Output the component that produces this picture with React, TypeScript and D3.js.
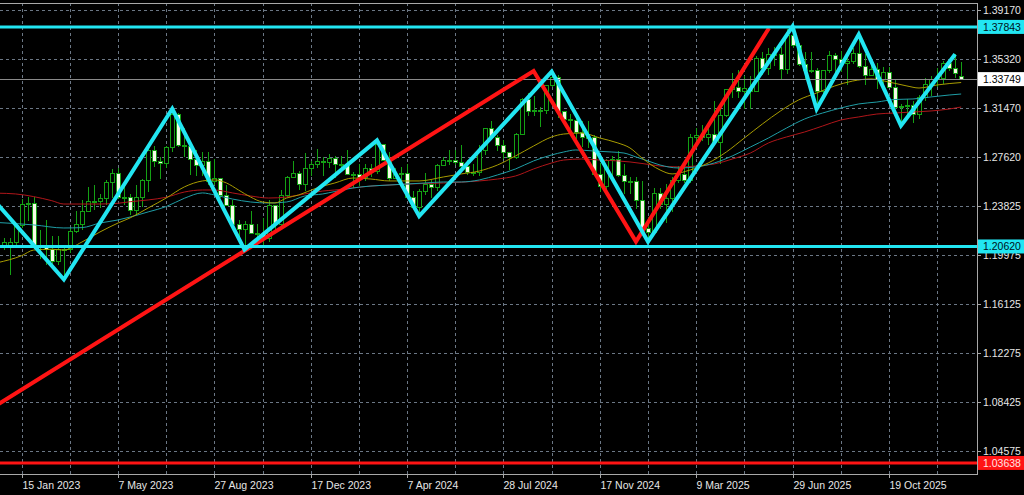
import React from 'react';
import * as d3 from 'd3';

// GBPUSD weekly. Week index 0 = 15 Jan 2023; first candle is week -3.
const FIRST_WEEK = -3;
// [open, high, low, close]
const candles: [number, number, number, number][] = [
  [1.2060, 1.2128, 1.2035, 1.2090],
  [1.2050, 1.2130, 1.1841, 1.2095],
  [1.2095, 1.2250, 1.2070, 1.2225],
  [1.2225, 1.2435, 1.2210, 1.2395],
  [1.2395, 1.2448, 1.2265, 1.2400],
  [1.2400, 1.2448, 1.2045, 1.2050],
  [1.2050, 1.2195, 1.1961, 1.2060],
  [1.2060, 1.2270, 1.1915, 1.2035],
  [1.2035, 1.2145, 1.1925, 1.1944],
  [1.1944, 1.2145, 1.1920, 1.2037],
  [1.2037, 1.2050, 1.1803, 1.2035],
  [1.2035, 1.2203, 1.2010, 1.2177],
  [1.2177, 1.2343, 1.2170, 1.2232],
  [1.2232, 1.2423, 1.2190, 1.2337],
  [1.2337, 1.2525, 1.2335, 1.2415],
  [1.2415, 1.2546, 1.2345, 1.2413],
  [1.2413, 1.2474, 1.2367, 1.2441],
  [1.2441, 1.2585, 1.2385, 1.2567],
  [1.2567, 1.2668, 1.2445, 1.2631],
  [1.2631, 1.2680, 1.2433, 1.2449],
  [1.2449, 1.2547, 1.2391, 1.2444],
  [1.2444, 1.2472, 1.2308, 1.2347],
  [1.2347, 1.2544, 1.2308, 1.2448],
  [1.2448, 1.2588, 1.2369, 1.2576],
  [1.2576, 1.2848, 1.2487, 1.2818],
  [1.2818, 1.2848, 1.2684, 1.2726],
  [1.2726, 1.2762, 1.2590, 1.2711],
  [1.2711, 1.2849, 1.2676, 1.2840],
  [1.2840, 1.3142, 1.2800, 1.3094],
  [1.3094, 1.3110, 1.2845, 1.2852],
  [1.2852, 1.2995, 1.2760, 1.2850],
  [1.2850, 1.2893, 1.2620, 1.2746],
  [1.2746, 1.2818, 1.2617, 1.2695],
  [1.2695, 1.2800, 1.2616, 1.2725],
  [1.2725, 1.2803, 1.2548, 1.2575],
  [1.2575, 1.2746, 1.2545, 1.2593],
  [1.2593, 1.2600, 1.2445, 1.2465],
  [1.2465, 1.2547, 1.2378, 1.2381],
  [1.2381, 1.2425, 1.2231, 1.2238],
  [1.2238, 1.2270, 1.2110, 1.2197],
  [1.2197, 1.2260, 1.2037, 1.2237],
  [1.2237, 1.2337, 1.2160, 1.2162],
  [1.2162, 1.2240, 1.2090, 1.2158],
  [1.2158, 1.2289, 1.2069, 1.2125],
  [1.2125, 1.2428, 1.2096, 1.2381],
  [1.2381, 1.2390, 1.2187, 1.2237],
  [1.2237, 1.2506, 1.2226, 1.2461],
  [1.2461, 1.2617, 1.2447, 1.2600],
  [1.2600, 1.2733, 1.2596, 1.2632],
  [1.2632, 1.2652, 1.2503, 1.2548],
  [1.2548, 1.2793, 1.2500, 1.2676],
  [1.2676, 1.2733, 1.2612, 1.2703],
  [1.2703, 1.2827, 1.2678, 1.2726],
  [1.2726, 1.2760, 1.2611, 1.2723],
  [1.2723, 1.2785, 1.2675, 1.2753],
  [1.2753, 1.2773, 1.2597, 1.2703],
  [1.2703, 1.2775, 1.2676, 1.2708],
  [1.2708, 1.2818, 1.2620, 1.2630],
  [1.2630, 1.2650, 1.2518, 1.2628],
  [1.2628, 1.2709, 1.2536, 1.2600],
  [1.2600, 1.2709, 1.2577, 1.2670],
  [1.2670, 1.2709, 1.2605, 1.2651],
  [1.2651, 1.2894, 1.2630, 1.2858],
  [1.2858, 1.2864, 1.2735, 1.2736],
  [1.2736, 1.2803, 1.2574, 1.2598],
  [1.2598, 1.2675, 1.2589, 1.2624],
  [1.2624, 1.2683, 1.2539, 1.2633],
  [1.2633, 1.2709, 1.2448, 1.2449],
  [1.2449, 1.2498, 1.2368, 1.2371],
  [1.2371, 1.2510, 1.2300, 1.2493],
  [1.2493, 1.2635, 1.2465, 1.2546],
  [1.2546, 1.2594, 1.2446, 1.2523],
  [1.2523, 1.2710, 1.2500, 1.2700],
  [1.2700, 1.2760, 1.2690, 1.2738],
  [1.2738, 1.2818, 1.2700, 1.2740],
  [1.2740, 1.2818, 1.2702, 1.2722],
  [1.2722, 1.2860, 1.2656, 1.2686],
  [1.2686, 1.2738, 1.2620, 1.2644],
  [1.2644, 1.2709, 1.2612, 1.2645],
  [1.2645, 1.2861, 1.2615, 1.2813],
  [1.2813, 1.2995, 1.2780, 1.2990],
  [1.2990, 1.3044, 1.2911, 1.2920],
  [1.2920, 1.2935, 1.2807, 1.2855],
  [1.2855, 1.2900, 1.2751, 1.2800],
  [1.2800, 1.2800, 1.2665, 1.2757],
  [1.2757, 1.2955, 1.2750, 1.2943],
  [1.2943, 1.3230, 1.2940, 1.3214],
  [1.3214, 1.3266, 1.3087, 1.3124],
  [1.3124, 1.3239, 1.3088, 1.3125],
  [1.3125, 1.3154, 1.3002, 1.3127],
  [1.3127, 1.3330, 1.3105, 1.3324],
  [1.3324, 1.3434, 1.3315, 1.3390],
  [1.3390, 1.3410, 1.3070, 1.3122],
  [1.3122, 1.3126, 1.3012, 1.3055],
  [1.3055, 1.3100, 1.2973, 1.3052],
  [1.3052, 1.3106, 1.2908, 1.2958],
  [1.2958, 1.3048, 1.2844, 1.2918],
  [1.2918, 1.3048, 1.2835, 1.2917],
  [1.2917, 1.2940, 1.2620, 1.2625],
  [1.2625, 1.2720, 1.2487, 1.2532],
  [1.2532, 1.2750, 1.2500, 1.2733],
  [1.2733, 1.2775, 1.2610, 1.2743],
  [1.2743, 1.2811, 1.2606, 1.2619],
  [1.2619, 1.2712, 1.2475, 1.2572],
  [1.2572, 1.2607, 1.2475, 1.2568],
  [1.2568, 1.2607, 1.2353, 1.2422],
  [1.2422, 1.2575, 1.2190, 1.2206],
  [1.2206, 1.2291, 1.2100, 1.2170],
  [1.2170, 1.2524, 1.2160, 1.2480],
  [1.2480, 1.2520, 1.2357, 1.2393],
  [1.2393, 1.2550, 1.2250, 1.2440],
  [1.2440, 1.2607, 1.2332, 1.2580],
  [1.2580, 1.2690, 1.2560, 1.2630],
  [1.2630, 1.2715, 1.2560, 1.2578],
  [1.2578, 1.2947, 1.2560, 1.2918],
  [1.2918, 1.2990, 1.2860, 1.2935],
  [1.2935, 1.3015, 1.2890, 1.2918],
  [1.2918, 1.2990, 1.2860, 1.2940],
  [1.2940, 1.3207, 1.2855, 1.2880],
  [1.2880, 1.3150, 1.2708, 1.3087],
  [1.3087, 1.3300, 1.3080, 1.3290],
  [1.3290, 1.3424, 1.3230, 1.3310],
  [1.3310, 1.3445, 1.3230, 1.3280],
  [1.3280, 1.3400, 1.3140, 1.3300],
  [1.3300, 1.3400, 1.3140, 1.3280],
  [1.3280, 1.3560, 1.3270, 1.3540],
  [1.3540, 1.3590, 1.3410, 1.3460],
  [1.3460, 1.3615, 1.3410, 1.3570],
  [1.3570, 1.3630, 1.3480, 1.3570],
  [1.3570, 1.3630, 1.3370, 1.3450],
  [1.3450, 1.3770, 1.3415, 1.3720],
  [1.3720, 1.3789, 1.3620, 1.3640],
  [1.3640, 1.3660, 1.3480, 1.3490],
  [1.3490, 1.3590, 1.3365, 1.3440],
  [1.3440, 1.3590, 1.3420, 1.3440],
  [1.3440, 1.3460, 1.3140, 1.3275],
  [1.3275, 1.3440, 1.3260, 1.3445],
  [1.3445, 1.3595, 1.3420, 1.3560],
  [1.3560, 1.3580, 1.3390, 1.3525],
  [1.3525, 1.3595, 1.3430, 1.3500],
  [1.3500, 1.3595, 1.3330, 1.3510],
  [1.3510, 1.3615, 1.3490, 1.3575],
  [1.3575, 1.3726, 1.3465, 1.3470],
  [1.3470, 1.3570, 1.3325, 1.3405],
  [1.3405, 1.3525, 1.3400, 1.3450],
  [1.3450, 1.3500, 1.3300, 1.3370],
  [1.3370, 1.3470, 1.3295, 1.3430],
  [1.3430, 1.3470, 1.3305, 1.3310],
  [1.3310, 1.3370, 1.3140, 1.3150],
  [1.3150, 1.3180, 1.3010, 1.3160],
  [1.3160, 1.3215, 1.3090, 1.3170],
  [1.3170, 1.3200, 1.3030, 1.3100],
  [1.3100, 1.3250, 1.3060, 1.3230],
  [1.3230, 1.3385, 1.3200, 1.3330],
  [1.3330, 1.3400, 1.3240, 1.3370],
  [1.3370, 1.3460, 1.3315, 1.3380],
  [1.3380, 1.3520, 1.3340, 1.3500],
  [1.3500, 1.3535, 1.3440, 1.3460],
  [1.3460, 1.3570, 1.3380, 1.3420],
  [1.3395, 1.3510, 1.3370, 1.33749],
];

// moving averages: [week, price]
const maYellow: [number, number][] = [
  [-4, 1.1935], [0, 1.1990], [2, 1.2034], [5, 1.2040], [7, 1.2034], [10, 1.2097], [13, 1.2176],
  [16, 1.2246], [18, 1.2286], [21, 1.2364], [24, 1.2442], [27, 1.2529], [30, 1.2576], [32, 1.2584],
  [34, 1.2560], [36, 1.2505], [38, 1.2450], [40, 1.2411], [42, 1.2403], [44, 1.2442], [46, 1.2466],
  [49, 1.2521], [52, 1.2560], [55, 1.2599], [58, 1.2591], [61, 1.2576], [64, 1.2576], [66, 1.2576],
  [70, 1.2607], [73, 1.2631], [76, 1.2654], [79, 1.2701], [82, 1.2772], [85, 1.2850], [88, 1.2921],
  [90, 1.2944], [93, 1.2952], [96, 1.2913], [99, 1.2874], [101, 1.2835], [103, 1.2756], [106, 1.2662],
  [108, 1.2631], [111, 1.2662], [114, 1.2717], [117, 1.2803], [120, 1.2913], [123, 1.3023],
  [126, 1.3125], [129, 1.3211], [132, 1.3266], [135, 1.3321], [138, 1.3360], [141, 1.3376],
  [144, 1.3352], [147, 1.3321], [149, 1.3305], [152, 1.3329], [156, 1.3348],
];
const maTeal: [number, number][] = [
  [-4, 1.2250], [2, 1.2231], [7, 1.2207], [10, 1.2210], [13, 1.2246], [16, 1.2270], [18, 1.2293],
  [21, 1.2333], [24, 1.2375], [27, 1.2440], [30, 1.2482], [32, 1.2466], [35, 1.2434], [38, 1.2411],
  [41, 1.2403], [44, 1.2411], [47, 1.2458], [50, 1.2474], [52, 1.2493], [55, 1.2521], [58, 1.2536],
  [61, 1.2544], [64, 1.2552], [67, 1.2560], [70, 1.2568], [73, 1.2568], [76, 1.2584], [79, 1.2623],
  [82, 1.2670], [85, 1.2733], [88, 1.2780], [90, 1.2803], [92, 1.2819], [95, 1.2811], [98, 1.2803],
  [100, 1.2795], [102, 1.2764], [104, 1.2733], [106, 1.2701], [109, 1.2678], [112, 1.2686],
  [115, 1.2717], [118, 1.2772], [121, 1.2842], [124, 1.2913], [127, 1.2991], [130, 1.3062],
  [133, 1.3109], [136, 1.3148], [139, 1.3180], [142, 1.3195], [145, 1.3215], [148, 1.3219],
  [151, 1.3235], [154, 1.3250], [156, 1.3258],
];
const maRed: [number, number][] = [
  [-4, 1.2480], [-1, 1.2474], [2, 1.2453], [5, 1.2421], [7, 1.2395], [13, 1.2395], [16, 1.2401],
  [18, 1.2413], [21, 1.2427], [24, 1.2448], [27, 1.2489], [30, 1.2505], [32, 1.2505], [35, 1.2482],
  [38, 1.2458], [41, 1.2442], [44, 1.2450], [47, 1.2474], [50, 1.2497], [52, 1.2505], [55, 1.2521],
  [58, 1.2536], [61, 1.2544], [64, 1.2552], [70, 1.2560], [76, 1.2576], [79, 1.2591], [82, 1.2615],
  [85, 1.2670], [88, 1.2717], [90, 1.2740], [93, 1.2748], [96, 1.2740], [99, 1.2733], [101, 1.2725],
  [103, 1.2713], [106, 1.2693], [109, 1.2686], [112, 1.2693], [115, 1.2709], [118, 1.2748],
  [121, 1.2795], [124, 1.2874], [127, 1.2921], [130, 1.2960], [133, 1.3007], [136, 1.3054],
  [139, 1.3078], [142, 1.3101], [145, 1.3109], [148, 1.3117], [151, 1.3125], [154, 1.3140],
  [156, 1.3156],
];

// zigzag swing points [week, price]
const zigzag: [number, number][] = [
  [-5, 1.2446], [7, 1.1803], [25, 1.3142], [37, 1.2037], [59, 1.2894], [66, 1.2300],
  [88, 1.3434], [104, 1.2100], [128, 1.3789], [132, 1.3140], [139, 1.3726], [146, 1.3010],
  [155, 1.3570],
];
// red trend lines [week, price]
const redTrend: [number, number][] = [
  [-4, 1.0822], [85, 1.3439], [102, 1.2100], [124.1, 1.3776],
];

const cyanLevels = [1.37843, 1.20620];
const redLevel = 1.03638;
const lastPrice = 1.33749;

const priceTicks = [1.39170, 1.35320, 1.31470, 1.27620, 1.23825, 1.19975, 1.16125, 1.12275, 1.08425, 1.04575];
const dateLabels = [
  '15 Jan 2023', '7 May 2023', '27 Aug 2023', '17 Dec 2023', '7 Apr 2024',
  '28 Jul 2024', '17 Nov 2024', '9 Mar 2025', '29 Jun 2025', '19 Oct 2025',
];
const LABEL_EVERY = 16;
const GRID_EVERY = 8;

const PLOT_R = 977;
const PLOT_T = 3;
const PLOT_B = 474;
const FONT = "'Liberation Sans', Arial, sans-serif";

export default function App() {
  const x = d3.scaleLinear().domain([0, 144]).range([21.7, 888.9]);
  const y = d3.scaleLinear().domain([1.04575, 1.3917]).range([451, 10]);

  const maLine = d3.line<[number, number]>().x(d => x(d[0])).y(d => y(d[1])).curve(d3.curveMonotoneX);
  const polyLine = d3.line<[number, number]>().x(d => x(d[0])).y(d => y(d[1]));

  const vGrid: number[] = [];
  for (let w = 0; x(w) < PLOT_R; w += GRID_EVERY) vGrid.push(w);

  const green = '#14a014';

  return (
    <svg width={1024} height={495} style={{ position: 'fixed', left: 0, top: 0, background: '#000', display: 'block' }}>
      <defs>
        <clipPath id="plot">
          <rect x={0} y={PLOT_T} width={PLOT_R} height={PLOT_B - PLOT_T} />
        </clipPath>
      </defs>
      <rect x={0} y={0} width={1024} height={495} fill="#000" />
      {/* grid */}
      <g stroke="#6b7785" strokeWidth={1} strokeDasharray="3,3" shapeRendering="crispEdges">
        {priceTicks.map(p => (
          <line key={'h' + p} x1={0} x2={PLOT_R} y1={Math.round(y(p)) + 0.5} y2={Math.round(y(p)) + 0.5} />
        ))}
        {vGrid.map(w => (
          <line key={'v' + w} x1={Math.round(x(w)) + 0.5} x2={Math.round(x(w)) + 0.5} y1={PLOT_T} y2={PLOT_B} />
        ))}
      </g>
      <g clipPath="url(#plot)">
        {/* candles */}
        <g shapeRendering="crispEdges">
          {candles.map((c, k) => {
            const w = k + FIRST_WEEK;
            const cx = Math.round(x(w)) + 0.5;
            const [o, h, l, cl] = c;
            const top = y(Math.max(o, cl));
            const bot = y(Math.min(o, cl));
            const bull = cl >= o;
            return (
              <g key={k}>
                <line x1={cx} x2={cx} y1={y(h)} y2={y(l)} stroke={green} strokeWidth={1} />
                <rect x={cx - 2} y={top} width={4} height={Math.max(bot - top, 1)}
                  fill={bull ? '#000' : '#f6fbe8'} stroke={green} strokeWidth={1} />
              </g>
            );
          })}
        </g>
        {/* moving averages */}
        <path d={maLine(maRed) || ''} fill="none" stroke="#b0161a" strokeWidth={1} />
        <path d={maLine(maTeal) || ''} fill="none" stroke="#1f9ea6" strokeWidth={1} />
        <path d={maLine(maYellow) || ''} fill="none" stroke="#a89c00" strokeWidth={1} />
        {/* last price line */}
        <line x1={0} x2={PLOT_R} y1={Math.round(y(lastPrice)) + 0.5} y2={Math.round(y(lastPrice)) + 0.5}
          stroke="#8a8a8a" strokeWidth={1} shapeRendering="crispEdges" />
        {/* red trend */}
        <path d={polyLine(redTrend) || ''} fill="none" stroke="#ff1414" strokeWidth={4} strokeLinejoin="miter" />
        {/* zigzag */}
        <path d={polyLine(zigzag) || ''} fill="none" stroke="#22e6f2" strokeWidth={4} strokeLinejoin="miter" />
        {/* levels */}
        {cyanLevels.map(p => (
          <line key={'c' + p} x1={0} x2={PLOT_R} y1={y(p)} y2={y(p)} stroke="#22e6f2" strokeWidth={3} />
        ))}
        <line x1={0} x2={PLOT_R} y1={y(redLevel)} y2={y(redLevel)} stroke="#ff1414" strokeWidth={3} />
      </g>
      {/* frame */}
      <g stroke="#a8a8a8" strokeWidth={1} fill="none" shapeRendering="crispEdges">
        <line x1={0} x2={PLOT_R + 0.5} y1={PLOT_T + 0.5} y2={PLOT_T + 0.5} />
        <line x1={PLOT_R + 0.5} x2={PLOT_R + 0.5} y1={PLOT_T} y2={PLOT_B + 0.5} />
        <line x1={0} x2={PLOT_R + 0.5} y1={PLOT_B + 0.5} y2={PLOT_B + 0.5} />
      </g>
      {/* price axis */}
      <g fontFamily={FONT} fontSize={10.5} fill="#e6e6e6">
        {priceTicks.map(p => (
          <g key={'t' + p}>
            <line x1={PLOT_R} x2={PLOT_R + 4} y1={Math.round(y(p)) + 0.5} y2={Math.round(y(p)) + 0.5} stroke="#a8a8a8" />
            <text x={983} y={y(p) + 4}>{p.toFixed(5)}</text>
          </g>
        ))}
      </g>
      {/* level labels */}
      <g fontFamily={FONT} fontSize={10.5}>
        {cyanLevels.map(p => (
          <g key={'cl' + p}>
            <rect x={PLOT_R + 1} y={y(p) - 7} width={1024 - PLOT_R} height={14} fill="#22e6f2" />
            <text x={983} y={y(p) + 4} fill="#001018">{p.toFixed(5)}</text>
          </g>
        ))}
        <rect x={PLOT_R + 1} y={y(lastPrice) - 7} width={1024 - PLOT_R} height={14} fill="#ffffff" />
        <text x={983} y={y(lastPrice) + 4} fill="#000">{lastPrice.toFixed(5)}</text>
        <rect x={PLOT_R + 1} y={y(redLevel) - 7} width={1024 - PLOT_R} height={14} fill="#ff1414" />
        <text x={983} y={y(redLevel) + 4} fill="#ffe4e4">{redLevel.toFixed(5)}</text>
      </g>
      {/* time axis */}
      <g fontFamily={FONT} fontSize={10.5} fill="#e6e6e6">
        {dateLabels.map((lab, j) => {
          const xx = Math.round(x(j * LABEL_EVERY)) + 0.5;
          return (
            <g key={lab}>
              <line x1={xx} x2={xx} y1={PLOT_B} y2={PLOT_B + 4} stroke="#a8a8a8" />
              <text x={xx} y={489}>{lab}</text>
            </g>
          );
        })}
      </g>
    </svg>
  );
}
